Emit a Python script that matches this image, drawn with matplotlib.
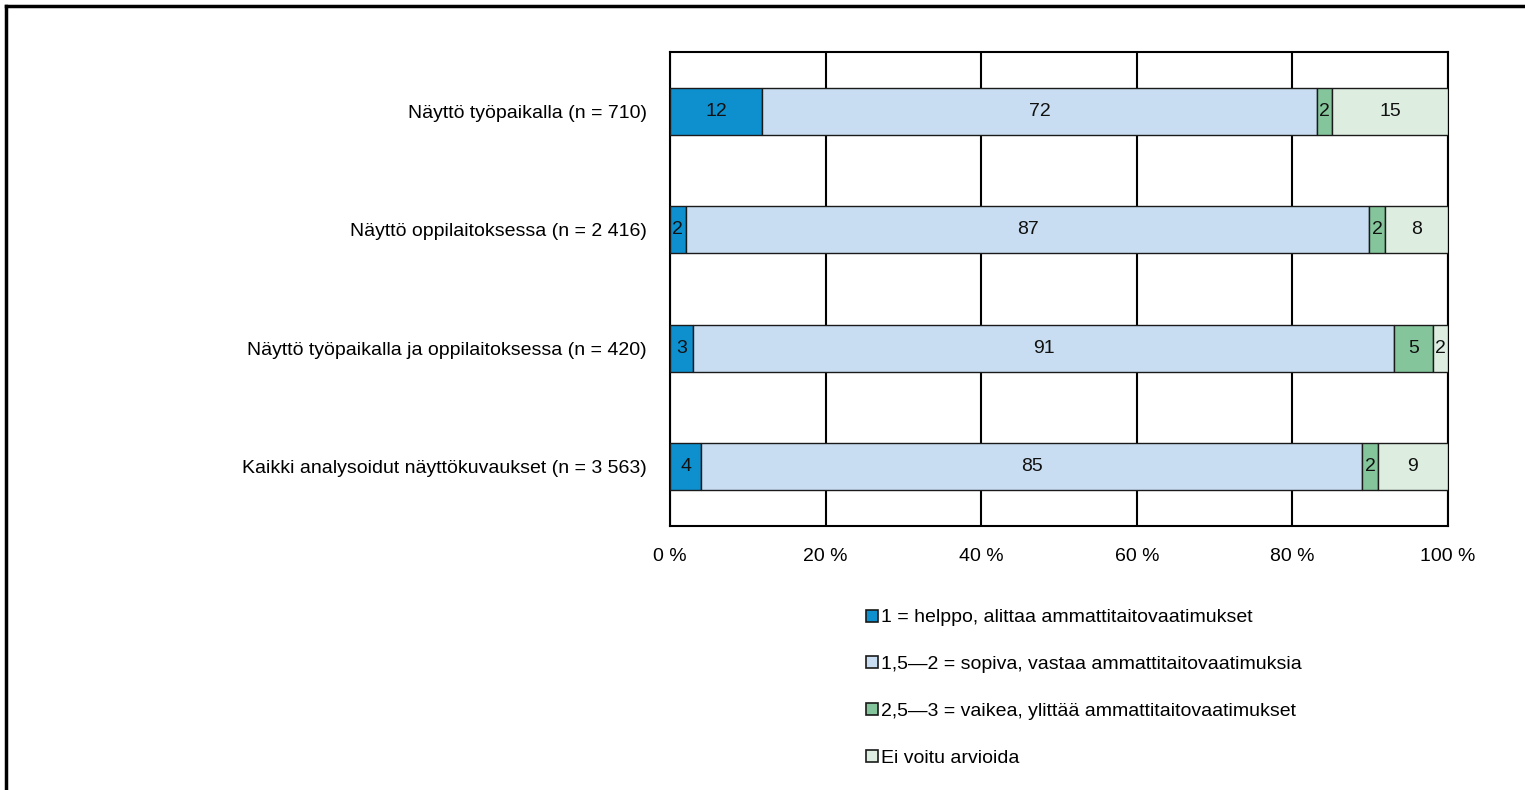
import matplotlib
matplotlib.use("Agg")
import matplotlib.pyplot as plt
from matplotlib.lines import Line2D
import numpy as np

plt.rcParams['font.family'] = ['Liberation Sans', 'DejaVu Sans']

categories = [
    "Näyttö työpaikalla (n = 710)",
    "Näyttö oppilaitoksessa (n = 2 416)",
    "Näyttö työpaikalla ja oppilaitoksessa (n = 420)",
    "Kaikki analysoidut näyttökuvaukset (n = 3 563)",
]
series_names = [
    "1 = helppo, alittaa ammattitaitovaatimukset",
    "1,5\u20142 = sopiva, vastaa ammattitaitovaatimuksia",
    "2,5\u20143 = vaikea, ylittää ammattitaitovaatimukset",
    "Ei voitu arvioida",
]
helppo = [12, 2, 3, 4]
sopiva = [72, 87, 91, 85]
vaikea = [2, 2, 5, 2]
ei_arvioitu = [15, 8, 2, 9]
x_ticks = [0, 20, 40, 60, 80, 100]
x_tick_labels = ["0 %", "20 %", "40 %", "60 %", "80 %", "100 %"]

colors = ["#0E90CF", "#C8DDF1", "#85C59B", "#DDEEE1"]

fig = plt.figure(figsize=(15.25, 7.9), dpi=100)
ax = fig.add_axes([670 / 1525, 264 / 790, 778 / 1525, 474 / 790])

series = np.array([helppo, sopiva, vaikea, ei_arvioitu], dtype=float)
shares = series / series.sum(axis=0) * 100
y = np.arange(len(categories))
left = np.zeros(len(categories))
fs = 14

for i in range(len(series_names)):
    bars = ax.barh(y, shares[i], left=left, height=0.4, color=colors[i],
                   edgecolor="#1a1a1a", linewidth=1.0, zorder=3)
    for j, b in enumerate(bars):
        ax.text(left[j] + shares[i][j] / 2, y[j], f"{int(series[i][j])}",
                ha="center", va="center", fontsize=fs, color="#111111", zorder=4)
    left += shares[i]

ax.set_xlim(0, 100)
ax.set_ylim(len(categories) - 0.5, -0.5)
ax.set_yticks(y)
ax.set_yticklabels(categories, fontsize=fs)
ax.set_xticks(x_ticks)
ax.set_xticklabels(x_tick_labels, fontsize=fs)
ax.tick_params(axis="both", length=0)
ax.tick_params(axis="y", pad=16.5)
ax.tick_params(axis="x", pad=16)
ax.grid(axis="x", color="black", linewidth=1.5, zorder=1)
for s in ax.spines.values():
    s.set_color("black")
    s.set_linewidth(1.5)

# Legend entries drawn as small squares with labels
handles = [Line2D([0], [0], marker="s", linestyle="none", markersize=8.5,
                  markerfacecolor=c, markeredgecolor="#1a1a1a", markeredgewidth=1.2)
           for c in colors]
fig.legend(handles, series_names, loc="upper left", bbox_to_anchor=(857 / 1525, 1 - 601 / 790),
           frameon=False, fontsize=fs, handlelength=0.7, handletextpad=0.12,
           labelspacing=1.5, borderaxespad=0)

# Outer frame
fig.add_artist(Line2D([6 / 1525, 6 / 1525], [0, 1 - 6 / 790], color="black", linewidth=2.5,
                      transform=fig.transFigure))
fig.add_artist(Line2D([6 / 1525, 1], [1 - 6 / 790, 1 - 6 / 790], color="black", linewidth=2.5,
                      transform=fig.transFigure))

fig.savefig("out.png", dpi=100, facecolor="white")
